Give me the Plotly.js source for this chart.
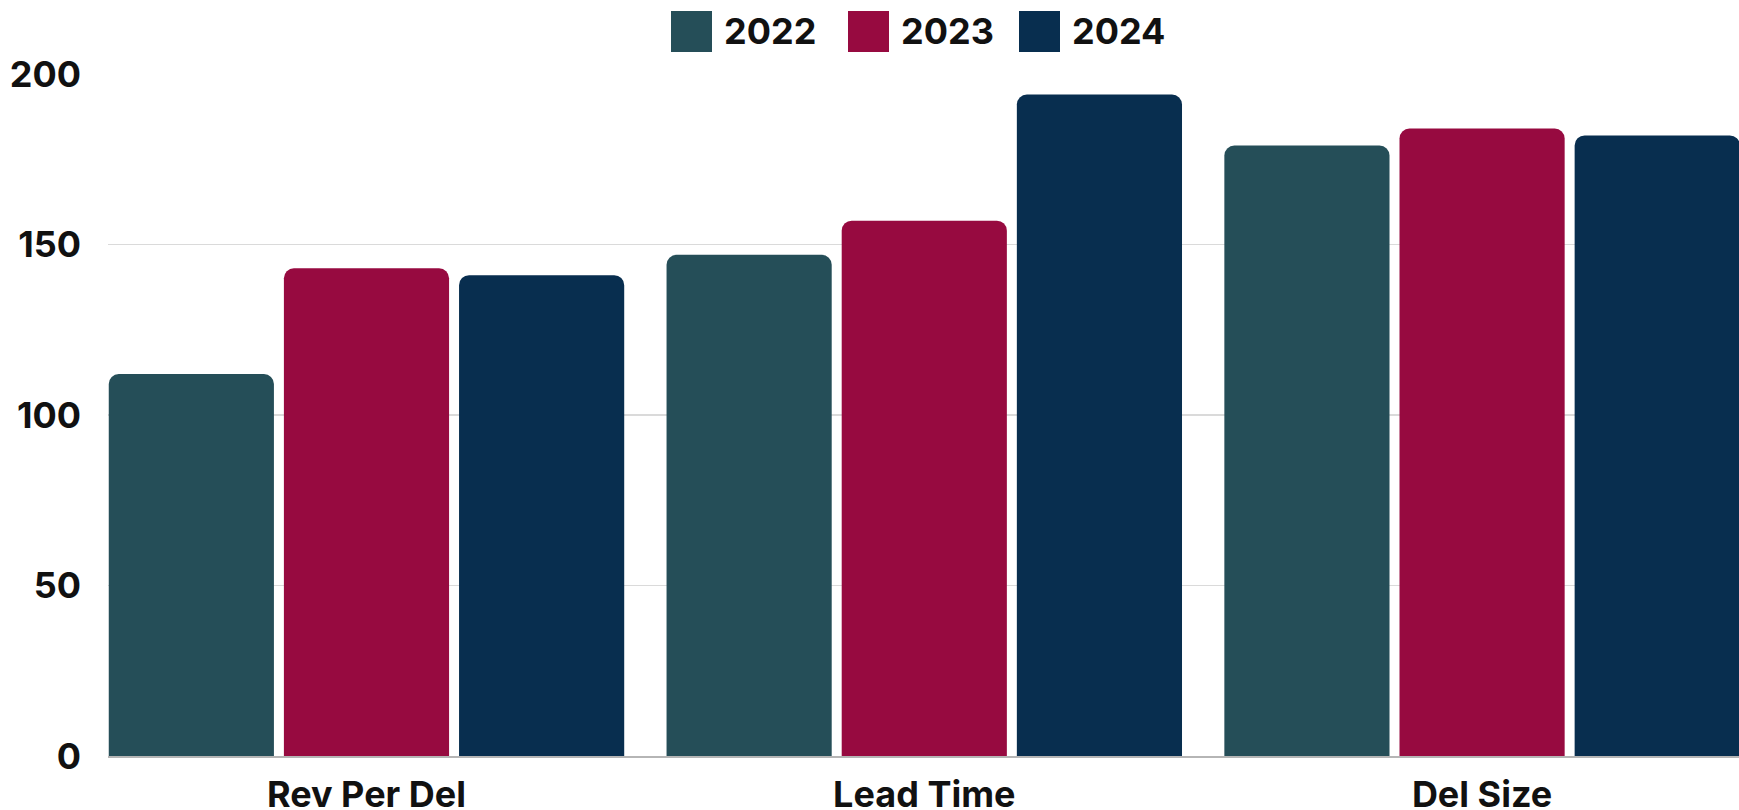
<!DOCTYPE html>
<html>
<head>
<meta charset="utf-8">
<script src="https://cdn.plot.ly/plotly-3.0.1.min.js"></script>
<style>html,body{margin:0;padding:0;background:#fff;}#chart{width:1739px;height:810px;}</style>
</head>
<body>
<div id="chart"></div>
<script>
const categories = ["Rev Per Del", "Lead Time", "Del Size"];
const years = ["2022", "2023", "2024"];
const values2022 = [112, 147, 179];
const values2023 = [143, 157, 184];
const values2024 = [141, 194, 182];
const colors = ["#254E58", "#970A40", "#082E4F"];
const yTicks = [0, 50, 100, 150, 200];

const series = [values2022, values2023, values2024];
const FONT = "Inter, 'Open Sans', sans-serif";

const traces = series.map((vals, i) => ({
  type: "bar",
  name: years[i],
  x: categories,
  y: vals,
  marker: { color: colors[i], cornerradius: 10 },
  showlegend: false,
  hoverinfo: "x+y+name"
}));

// custom legend (large squares), positioned in paper coordinates
const W = 1739, H = 810, ML = 108, MR = 0, MT = 74, MB = 54;
const PW = W - ML - MR, PH = H - MT - MB;
const px2x = p => (p - ML) / PW;
const py2y = p => (H - MB - p) / PH;
const legendSquareLeft = [671, 848, 1019];
const shapes = [];
const annotations = [];
years.forEach((yr, i) => {
  shapes.push({
    type: "rect", xref: "paper", yref: "paper",
    x0: px2x(legendSquareLeft[i]), x1: px2x(legendSquareLeft[i] + 41),
    y0: py2y(52), y1: py2y(11),
    fillcolor: colors[i], line: { width: 0 }
  });
  annotations.push({
    xref: "paper", yref: "paper",
    x: px2x(legendSquareLeft[i] + 51), y: py2y(31),
    xanchor: "left", yanchor: "middle",
    text: yr, showarrow: false,
    font: { family: FONT, size: 36, color: "#111", weight: 700 }
  });
});

const layout = {
  width: W, height: H,
  margin: { l: ML, r: MR, t: MT, b: MB, pad: 0 },
  paper_bgcolor: "#ffffff",
  plot_bgcolor: "#ffffff",
  barmode: "group",
  bargap: 0.058,
  bargroupgap: 0.057,
  showlegend: false,
  font: { family: FONT, color: "#111" },
  xaxis: {
    type: "category",
    range: [-0.4634, 2.4606],
    showgrid: false,
    showline: true,
    linecolor: "#b5b5b5",
    linewidth: 1.5,
    ticks: "",
    ticklabelstandoff: 6,
    tickfont: { family: FONT, size: 36, color: "#111", weight: 700 }
  },
  yaxis: {
    range: [0, 200],
    tickvals: yTicks,
    ticktext: yTicks.map(String),
    showgrid: true,
    gridcolor: "#dadada",
    gridwidth: 1.5,
    zeroline: false,
    showline: false,
    ticks: "",
    ticklabelstandoff: 26,
    tickfont: { family: FONT, size: 36, color: "#111", weight: 700 }
  },
  shapes: shapes,
  annotations: annotations
};

Plotly.newPlot("chart", traces, layout, { displayModeBar: false, staticPlot: true });
</script>
</body>
</html>
